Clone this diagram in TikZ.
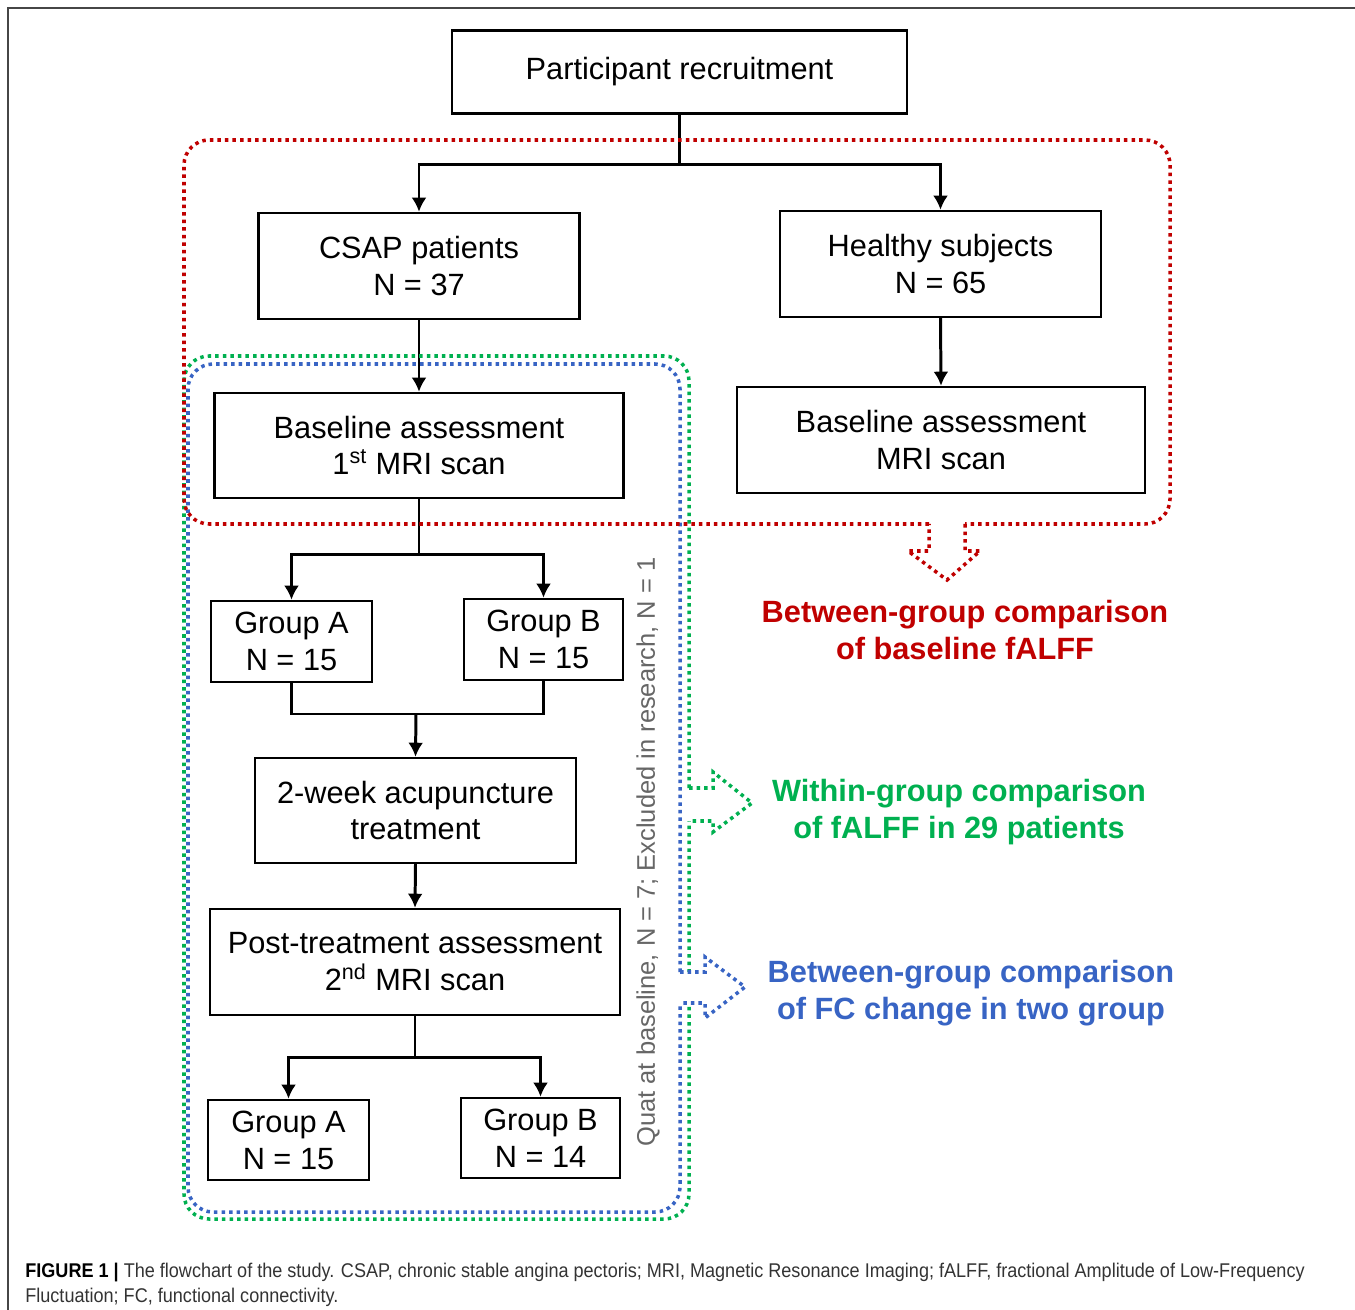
\documentclass[tikz,border=0pt]{standalone}
\usepackage{fontspec}
\setmainfont{Liberation Sans}
\newfontfamily\capfont[FakeStretch=0.91]{Liberation Sans}
\usetikzlibrary{arrows.meta,positioning,calc}
\definecolor{cred}{RGB}{192,0,0}
\definecolor{cgreen}{RGB}{0,176,80}
\definecolor{cblue}{RGB}{56,100,196}
\definecolor{frame}{RGB}{70,70,70}
\tikzset{box/.style={rectangle,draw,line width=1.4pt,inner sep=0pt,align=center,font=\fontsize{17.5}{21}\selectfont},
         wh/.style 2 args={minimum width=#1*0.02cm,minimum height=#2*0.02cm},
         link/.style={line width=1.7pt,line join=miter},
         flow/.style={link,->},
         dots/.style={line width=2pt,dash pattern=on 2pt off 2.3pt},
         result/.style={align=center,font=\fontsize{17.5}{21}\selectfont\bfseries}
}

\begin{document}
\begin{tikzpicture}[x=0.02cm,y=-0.02cm,>={Latex[length=8pt,width=8.5pt]}]
\useasboundingbox (0,0) rectangle (1355,1310);
\draw[frame,line width=0.9pt] (8,1310) -- (8,8) -- (1355,8);

% flow boxes
\node[box,wh={455}{83}] (pr) at (679.5,72) {Participant recruitment};
\node[box,wh={321}{106}] (csap) at (419,266) {CSAP patients\\N = 37};
\node[box,wh={321}{106}] (healthy) at (940.5,264) {Healthy subjects\\N = 65};
\node[box,wh={409}{105}] (baseL) at (419,445.5) {Baseline assessment\\1\textsuperscript{st} MRI scan};
\node[box,wh={408}{106}] (baseR) at (941,440) {Baseline assessment\\MRI scan};
\node[box,wh={161}{81}] (grpA) at (291.5,641.5) {Group A\\N = 15};
\node[box,wh={159}{81}] (grpB) at (543.5,639.5) {Group B\\N = 15};
\node[box,wh={321}{105}] (treat) at (415.5,810.5) {2-week acupuncture\\treatment};
\node[box,wh={410}{106}] (post) at (415,962) {Post-treatment assessment\\2\textsuperscript{nd} MRI scan};
\node[box,wh={161}{80}] (grpA2) at (288.5,1140) {Group A\\N = 15};
\node[box,wh={159}{80}] (grpB2) at (540.5,1138) {Group B\\N = 14};

% connectors
\draw[link] (pr.south) -- ++(0,50) coordinate (j1);
\draw[flow] (j1) -| (csap.north);
\draw[flow] (j1) -| (healthy.north);
\draw[flow] (csap.south) -- (baseL.north);
\draw[flow] (healthy.south) -- (baseR.north);
\draw[link] (baseL.south) -- ++(0,55) coordinate (j2);
\draw[flow] (j2) -| (grpA.north);
\draw[flow] (j2) -| (grpB.north);
\coordinate (j3) at (416,714);
\draw[link] (grpA.south) |- (j3) -| (grpB.south);
\draw[flow] (j3) -- (treat.north);
\draw[flow] (treat.south) -- (post.north);
\draw[link] (post.south) -- ++(0,41) coordinate (j4);
\draw[flow] (j4) -| (grpA2.north);
\draw[flow] (j4) -| (grpB2.north);

% dotted groups
\draw[dots,cgreen,rounded corners=0.5cm] (689,788) -- (689,356) -- (184,356) -- (184,1219) -- (689,1219) -- (689,821);
\filldraw[dots,draw=cgreen,fill=white] (689,788) -- (713,788) -- (713,772) -- (752,803) -- (713,832) -- (713,821) -- (689,821);
\draw[dots,cblue,rounded corners=0.5cm] (680,972) -- (680,364) -- (188,364) -- (188,1212) -- (680,1212) -- (680,1003);
\filldraw[dots,draw=cblue,fill=white] (680,972) -- (705,972) -- (705,957) -- (745,987) -- (705,1018) -- (705,1003) -- (680,1003);
\draw[dots,cred,rounded corners=0.5cm] (929,524) -- (184,524) -- (184,140) -- (1170,140) -- (1170,524) -- (965,524);
\filldraw[dots,draw=cred,fill=white] (965,524) -- (965,551) -- (980,551) -- (947,580) -- (908,551) -- (929,551) -- (929,524);

% comparisons
\node[result,text=cred] (cmpRed) at (965,630) {Between-group comparison\\of baseline fALFF};
\node[result,text=cgreen] (cmpGreen) at (959,812) {Within-group comparison\\of fALFF in 29 patients};
\node[result,text=cblue] (cmpBlue) at (971,993) {Between-group comparison\\of FC change in two group};
\node[rotate=90,text=black!60,font=\fontsize{14.5}{17}\selectfont] (excl) at (648,852) {Quat at baseline, N = 7; Excluded in research, N = 1};

% caption
\node[anchor=base west,inner sep=0pt,text=black!80,font=\capfont\fontsize{11.3}{14}\selectfont] (cap1) at (25,1277)
  {\textcolor{black}{\textbf{FIGURE 1 |}} The flowchart of the study. CSAP, chronic stable angina pectoris; MRI, Magnetic Resonance Imaging; fALFF, fractional Amplitude of Low-Frequency};
\node[anchor=base west,inner sep=0pt,text=black!80,font=\capfont\fontsize{11.3}{14}\selectfont] (cap2) at (25,1302)
  {Fluctuation; FC, functional connectivity.};
\end{tikzpicture}
\end{document}
